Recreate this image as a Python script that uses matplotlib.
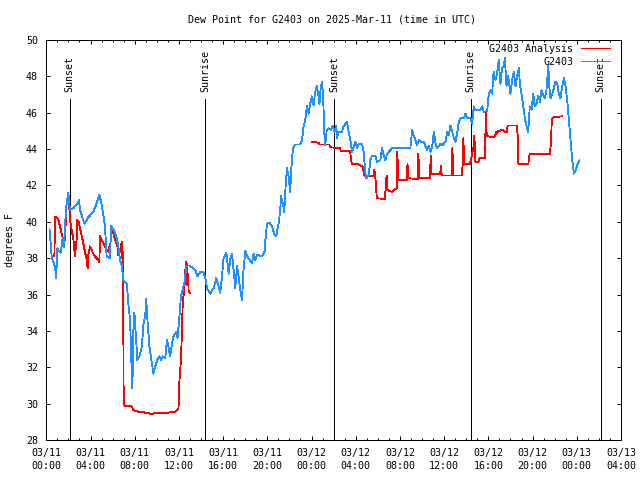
import matplotlib
matplotlib.use("Agg")
import matplotlib.pyplot as plt
from matplotlib.lines import Line2D

# ---- data (hours since 2025-03-11 00:00 UTC, degrees F) ----
obs_t = [0.29, 0.50, 0.80, 0.89, 1.00, 1.09, 1.30, 1.48, 1.60, 1.78, 1.99, 2.14, 2.44, 2.75, 2.96, 3.05,
         3.44, 3.80, 4.25, 4.55, 4.80, 5.01, 5.16, 5.31, 5.46, 5.77, 5.86, 6.13, 6.37, 6.51, 6.68, 6.83,
         6.97, 7.29, 7.42, 7.58, 7.73, 7.79, 7.88, 7.97, 8.10, 8.24, 8.43, 8.65, 8.79, 8.95, 9.04, 9.15,
         9.33, 9.55, 9.69, 9.85, 10.05, 10.23, 10.37, 10.55, 10.76, 10.91, 11.05, 11.21, 11.37, 11.51,
         11.76, 11.87, 12.05, 12.18, 12.30, 12.41, 12.54, 12.66, 12.77, 12.95, 13.27, 13.48, 13.68, 13.93,
         14.22, 14.39, 14.54, 14.83, 15.14, 15.38, 15.59, 15.74, 15.90, 16.04, 16.29, 16.50, 16.65, 16.81,
         16.95, 17.10, 17.26, 17.40, 17.55, 17.72, 17.80, 18.00, 18.17, 18.40, 18.62, 18.76, 18.91, 19.07,
         19.30, 19.52, 19.75, 19.81, 19.97, 20.20, 20.42, 20.62, 20.80, 21.01, 21.16, 21.23, 21.42, 21.53,
         21.65, 21.78, 21.92, 22.07, 22.16, 22.31, 22.52, 22.91, 23.13, 23.28, 23.43, 23.59, 23.73, 23.88,
         24.03, 24.18, 24.33, 24.49, 24.63, 24.72, 24.84, 24.96, 25.08, 25.14, 25.23, 25.38, 25.53, 25.75,
         25.93, 26.08, 26.24, 26.30, 26.45, 26.75, 26.90, 27.21, 27.36, 27.51, 27.66, 27.97, 28.12, 28.27,
         28.57, 28.72, 28.87, 28.96, 29.17, 29.32, 29.48, 29.78, 29.93, 30.23, 30.38, 30.53, 30.68, 30.84,
         31.14, 31.29, 32.94, 33.10, 33.24, 33.40, 33.55, 33.70, 33.86, 34.16, 34.31, 34.46, 34.61, 34.77,
         34.92, 35.07, 35.22, 35.37, 35.67, 35.82, 36.12, 36.27, 36.41, 36.57, 36.72, 36.87, 37.02, 37.17,
         37.32, 37.48, 37.78, 37.93, 38.08, 38.38, 38.53, 38.68, 38.83, 39.28, 39.43, 39.58, 39.89, 40.04,
         40.19, 40.34, 40.47, 40.64, 40.79, 40.93, 41.09, 41.24, 41.39, 41.49, 41.64, 41.79, 42.00, 42.15,
         42.30, 42.46, 42.61, 42.76, 42.85, 43.01, 43.16, 43.30, 43.45, 43.60, 43.75, 43.90, 44.06, 44.18,
         44.36, 44.52, 44.66, 44.81, 44.97, 45.11, 45.26, 45.42, 45.51, 45.62, 45.78, 45.92, 46.07, 46.23,
         46.37, 46.52, 46.68, 46.83, 46.98, 47.13, 47.28, 47.43, 47.59, 47.74, 47.89, 48.04, 48.19, 48.24]
obs_v = [39.6, 38.0, 37.5, 36.9, 38.55, 38.45, 38.3, 39.1, 38.6, 40.7, 41.6, 40.65, 40.75, 40.95, 41.2, 40.65,
         39.9, 40.25, 40.55, 41.0, 41.5, 40.95, 40.4, 39.75, 38.1, 38.0, 39.75, 39.55, 39.1, 38.65, 37.9, 37.6,
         36.8, 36.6, 35.5, 34.6, 31.7, 30.85, 34.05, 35.0, 33.7, 32.4, 32.6, 33.15, 34.4, 34.8, 35.75, 34.6,
         33.15, 32.25, 31.65, 32.05, 32.4, 32.6, 32.4, 32.6, 32.5, 33.5, 33.15, 32.6, 33.3, 33.7,
         33.95, 33.6, 34.8, 35.9, 36.15, 36.45, 36.8, 37.55, 37.6, 37.6, 37.45, 37.35, 37.0, 37.25,
         37.25, 36.9, 36.35, 36.05, 36.35, 36.9, 36.45, 36.1, 37.0, 38.0, 38.3, 37.15, 37.95, 38.25,
         37.35, 36.35, 37.55, 37.0, 36.25, 35.7, 37.0, 38.4, 38.1, 37.9, 37.75, 38.25, 37.9, 38.2,
         38.15, 38.1, 38.35, 38.9, 39.9, 39.95, 39.75, 39.35, 39.2, 39.9, 40.55, 41.4, 41.0, 40.55,
         41.95, 42.95, 42.5, 41.65, 42.85, 44.0, 44.25, 44.25, 44.45, 45.25, 45.6, 46.4, 45.95, 46.5,
         46.9, 46.4, 47.15, 47.45, 46.9, 46.5, 47.45, 47.7, 46.35, 45.05, 44.2, 45.05, 45.15, 45.05,
         45.3, 44.95, 45.3, 44.6, 44.95, 44.95, 45.25, 45.5, 44.95, 44.5, 43.85, 44.4, 44.05, 44.3,
         44.3, 43.85, 42.65, 42.4, 42.55, 43.4, 43.65, 43.6, 43.3, 43.4, 44.05, 43.65, 43.4, 43.75,
         43.95, 44.05, 44.05, 45.05, 44.75, 44.5, 44.2, 44.5, 44.4, 44.4, 44.15, 43.95, 44.2, 43.85,
         44.15, 44.95, 44.3, 44.05, 44.3, 44.2, 44.4, 44.95, 44.75, 45.3, 44.95, 44.6, 44.4, 44.85,
         45.5, 45.7, 45.7, 45.95, 45.7, 45.7, 45.4, 46.35, 46.15, 46.15, 46.35, 46.05, 46.1, 47.05,
         47.25, 47.05, 48.25, 47.8, 48.15, 48.9, 47.6, 48.45, 48.55, 49.0, 47.45, 48.0, 47.05, 47.8,
         48.25, 47.45, 48.05, 48.45, 47.6, 46.95, 46.35, 45.7, 45.25, 44.95, 46.35, 46.15, 47.05, 46.35,
         46.5, 46.95, 46.6, 47.25, 46.95, 46.8, 47.25, 48.6, 47.45, 46.8, 47.05, 47.35, 47.7, 47.6,
         47.05, 46.8, 47.45, 47.9, 47.45, 46.7, 45.6, 44.5, 43.4, 42.65, 42.85, 43.1, 43.3, 43.4]

ana1_t = [0.73, 0.79, 0.94, 1.09, 1.24, 1.39, 1.54, 1.63, 1.69, 1.84, 1.99, 2.08, 2.14, 2.29, 2.44, 2.53,
          2.59, 2.75, 2.81, 2.93, 3.05, 3.20, 3.35, 3.50, 3.65, 3.74, 3.80, 3.95, 4.10, 4.25, 4.40, 4.56,
          4.71, 4.80, 4.86, 5.01, 5.16, 5.31, 5.46, 5.62, 5.71, 5.77, 5.86, 6.01, 6.13, 6.31, 6.43, 6.51,
          6.68, 6.79, 6.83, 6.88, 6.92, 6.97, 7.00, 7.43, 7.74, 7.88, 8.33, 8.78, 8.94, 9.24, 9.40, 9.69,
          9.85, 10.14, 10.90, 11.04, 11.35, 11.66, 11.81, 11.96, 12.05, 12.17, 12.26, 12.35, 12.47, 12.56,
          12.62, 12.71, 12.76, 12.82, 12.88, 13.01]
ana1_v = [38.1, 40.3, 40.25, 40.1, 39.75, 39.35, 39.0, 38.9, 39.1, 41.0, 41.2, 40.85, 40.1, 39.55, 39.1, 38.55,
          38.1, 39.1, 40.1, 40.0, 39.65, 39.25, 38.8, 38.35, 37.9, 37.45, 38.15, 38.65, 38.45, 38.25, 38.1, 38.0,
          37.9, 37.8, 39.2, 39.0, 38.8, 38.65, 38.45, 38.35, 38.65, 38.3, 39.75, 39.55, 39.2, 38.9, 38.65, 38.15,
          38.35, 38.8, 38.0, 38.9, 38.0, 34.4, 29.9, 29.85, 29.85, 29.65, 29.55, 29.55, 29.5, 29.5, 29.45, 29.45,
          29.5, 29.5, 29.5, 29.5, 29.55, 29.55, 29.65, 29.75, 31.3, 32.3, 33.7, 35.7, 36.15, 37.0,
          37.8, 37.7, 36.5, 37.15, 36.15, 36.1]

ana2_t = [24.05, 24.62, 24.71, 25.61, 25.67, 26.58, 26.64, 27.49, 27.58, 27.64, 28.09, 28.63, 28.80, 29.58,
          29.68, 29.74, 29.84, 29.90, 30.65, 30.74, 30.80, 30.86, 31.26, 31.71, 31.76, 31.82, 31.85, 32.62,
          32.68, 32.77, 33.61, 33.67, 33.73, 34.72, 34.78, 34.84, 35.63, 35.72, 35.78, 36.68, 36.74, 36.83,
          37.59, 37.68, 37.74, 37.80, 38.34, 38.64, 38.73, 38.83, 39.10, 39.20, 39.70, 39.76, 39.85, 40.00,
          40.45, 40.61, 40.70, 40.76, 40.90, 41.35, 41.50, 41.68, 41.75, 42.57, 42.66, 42.71, 43.62, 43.71,
          43.77, 45.58, 45.67, 45.74, 45.88, 46.64]
ana2_v = [44.4, 44.35, 44.25, 44.25, 44.1, 44.05, 43.9, 43.9, 43.4, 43.2, 43.2, 43.05, 42.5, 42.5,
          42.85, 42.65, 41.95, 41.3, 41.25, 42.3, 42.55, 41.75, 41.65, 41.85, 43.85, 42.85, 42.3, 42.3,
          43.2, 42.4, 42.35, 43.75, 42.4, 42.4, 43.65, 42.65, 42.65, 43.05, 42.55, 42.55, 44.05, 42.55,
          42.55, 43.2, 44.6, 43.2, 43.2, 44.05, 44.75, 43.3, 43.3, 43.5, 43.5, 46.05, 44.75, 44.7,
          44.65, 44.75, 44.95, 44.85, 45.0, 45.05, 44.95, 44.95, 45.3, 45.3, 44.7, 43.2, 43.2, 43.65,
          43.75, 43.75, 44.5, 45.6, 45.75, 45.8]

sun_t = [2.10, 14.40, 26.05, 38.40, 50.17]
sun_lbl = ["Sunset", "Sunrise", "Sunset", "Sunrise", "Sunset"]

tick_hours = [0, 4, 8, 12, 16, 20, 24, 28, 32, 36, 40, 44, 48, 52]
tick_labels = ["03/11\n00:00", "03/11\n04:00", "03/11\n08:00", "03/11\n12:00", "03/11\n16:00",
               "03/11\n20:00", "03/12\n00:00", "03/12\n04:00", "03/12\n08:00", "03/12\n12:00",
               "03/12\n16:00", "03/12\n20:00", "03/13\n00:00", "03/13\n04:00"]

RED = "#ff0000"
BLUE = "#1e90ff"
FONT = "DejaVu Sans Mono"
FS = 7.2
LW = 0.72   # one pixel at 100 dpi
DLW = 0.6   # data lines

plt.rcParams["font.family"] = FONT
plt.rcParams["font.size"] = FS

fig = plt.figure(figsize=(6.4, 4.8), dpi=100)
ax = fig.add_axes([46.3 / 640, 40 / 480, (621 - 46.3) / 640, 400 / 480])

ax.plot(ana1_t, ana1_v, color=RED, lw=DLW, antialiased=False, zorder=3)
ax.plot(ana2_t, ana2_v, color=RED, lw=DLW, antialiased=False, zorder=3)
ax.plot(obs_t, obs_v, color=BLUE, lw=DLW, antialiased=False, zorder=4)

ax.vlines(sun_t, 28, 46.75, color="black", lw=LW, antialiased=False, zorder=2)
for t, lbl in zip(sun_t, sun_lbl):
    ax.text(t, 47.12, lbl, rotation=90, ha="center", va="bottom", fontsize=FS, zorder=5)

ax.set_xlim(0, 52)
ax.set_ylim(28, 50)
ax.set_xticks(tick_hours)
ax.set_xticklabels(tick_labels, linespacing=1.35)
ax.set_xticks(range(0, 53), minor=True)
ax.set_yticks(range(28, 51, 2))
ax.tick_params(which="both", direction="in", top=True, right=True, width=LW, labelsize=FS)
ax.tick_params(which="major", length=3.0)
ax.tick_params(which="minor", length=1.5)
ax.tick_params(axis="x", which="major", pad=6)
ax.tick_params(axis="y", which="major", pad=6)
for s in ax.spines.values():
    s.set_linewidth(LW)

handles = [Line2D([], [], color=RED, lw=LW, antialiased=False),
           Line2D([], [], color=BLUE, lw=LW, antialiased=False)]
leg = ax.legend(handles, ["G2403 Analysis", "G2403"], loc="upper right",
                bbox_to_anchor=((610 - 46.3) / 574.7, (440 - 44) / 400),
                frameon=False, markerfirst=False, alignment="right",
                borderpad=0, borderaxespad=0, handlelength=2.9, handletextpad=0.8,
                labelspacing=0.3, fontsize=FS)
leg.set_zorder(6)

fig.text(332 / 640, 1 - 19 / 480, "Dew Point for G2403 on 2025-Mar-11 (time in UTC)",
         ha="center", va="center", fontsize=FS)
fig.text(10 / 640, 0.5, "degrees F", rotation=90, ha="center", va="center", fontsize=FS)

fig.savefig("out.png", dpi=100)
